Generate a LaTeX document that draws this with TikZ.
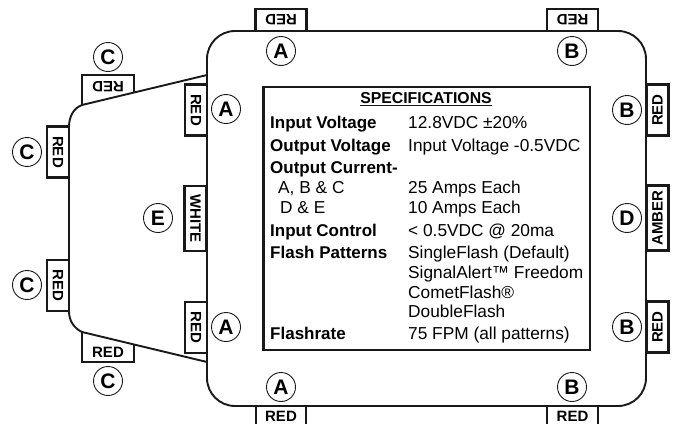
\documentclass[tikz,border=0pt]{standalone}
\usepackage{fontspec}
\setmainfont{Liberation Sans}
\tikzset{
  outline/.style={line width=1.9pt,draw=black!90},
  tabbox/.style={draw=black!90,line width=2.2pt,minimum width=51pt,minimum height=22pt,inner sep=0pt,font=\fontsize{15}{15}\selectfont\bfseries},
  longtab/.style={tabbox,minimum width=65pt,font=\fontsize{15}{15}\selectfont\bfseries},
  tabtext/.style={inner sep=0pt,font=\fontsize{15}{15}\selectfont\bfseries},
  tagcircle/.style={draw=black!90,line width=0.9pt,circle,minimum size=29pt,inner sep=0pt,font=\fontsize{21}{21}\selectfont\bfseries},
  head/.style={anchor=base west,inner sep=0pt,font=\fontsize{17}{17}\selectfont\bfseries},
  val/.style={anchor=base west,inner sep=0pt,font=\fontsize{17.3}{17}\selectfont},
}
\begin{document}
\begin{tikzpicture}[x=1pt,y=-1pt]
\useasboundingbox (0,0) rectangle (674,423);
% main body
\draw[outline,rounded corners=28pt] (207,200) -- (207,31) -- (646,31) -- (646,406) -- (207,406) -- cycle;
% left wing
\draw[outline] (207,75) -- (82,105) .. controls (74,108) and (69,116) .. (69,127) -- (69,311)
  .. controls (69,321) and (74,328) .. (82,332) -- (207,362);
% angled tabs
\draw[outline,line width=2.2pt] (82,105) -- (82,75) -- (134,75) -- (134,92.5);
\draw[outline,line width=2.2pt] (82,332) -- (82,362) -- (134,362) -- (134,344.5);
\node[tabtext,rotate=180] (tc1) at (108,87) {RED};
\node[tabtext] (tc4) at (108,352) {RED};
% open bottom tabs
\draw[outline,line width=2.2pt] (256,423.5) -- (256,406) (306,406) -- (306,423.5);
\draw[outline,line width=2.2pt] (547,423.5) -- (547,406) (598,406) -- (598,423.5);
\node[tabtext] (ta5) at (281,416) {RED};
\node[tabtext] (tb5) at (572.5,416) {RED};
% other tabs
\node[tabbox,rotate=180] (ta1) at (281,20) {RED};
\node[tabbox,rotate=180] (tb1) at (572.5,20) {RED};
\node[tabbox,rotate=-90] (tc2) at (58,152) {RED};
\node[tabbox,rotate=-90] (tc3) at (58,285.5) {RED};
\node[tabbox,rotate=-90] (ta2) at (196,110) {RED};
\node[longtab,rotate=-90] (te) at (195.5,218.5) {WHITE};
\node[tabbox,rotate=-90] (ta3) at (196,327.5) {RED};
\node[tabbox,rotate=90] (tb2) at (657.5,110) {RED};
\node[longtab,rotate=90] (td) at (657.5,218) {AMBER};
\node[tabbox,rotate=90] (tb3) at (657.5,327) {RED};
% letter circles
\node[tagcircle] (c1) at (108,57) {C};
\node[tagcircle] (c2) at (27,152) {C};
\node[tagcircle] (c3) at (27,285) {C};
\node[tagcircle] (c4) at (108,381) {C};
\node[tagcircle] (a1) at (281,51) {A};
\node[tagcircle] (a2) at (226,109) {A};
\node[tagcircle] (a3) at (226,327) {A};
\node[tagcircle] (a4) at (281,387) {A};
\node[tagcircle] (b1) at (572,51) {B};
\node[tagcircle] (b2) at (627,110) {B};
\node[tagcircle] (b3) at (627,327) {B};
\node[tagcircle] (b4) at (572,387) {B};
\node[tagcircle] (d) at (627,218) {D};
\node[tagcircle] (e) at (158,218) {E};
% specification box
\draw[line width=2.2pt,draw=black!90] (263.5,87) rectangle (590,350);
\node[head,anchor=base,font=\fontsize{15.8}{16}\selectfont\bfseries] (title) at (426,103) {SPECIFICATIONS};
\draw[line width=1.1pt,draw=black!90] ([yshift=-2.2pt]title.base west) -- ([yshift=-2.2pt]title.base east);
\node[head] (h1) at (270,128) {Input Voltage};
\node[val] (v1) at (408,128) {12.8VDC ±20\%};
\node[head] (h2) at (270,151) {Output Voltage};
\node[val] (v2) at (408,151) {Input Voltage -0.5VDC};
\node[head] (h3) at (270,173) {Output Current-};
\node[val] (h4) at (278,193) {A, B \& C};
\node[val] (v4) at (408,193) {25 Amps Each};
\node[val] (h5) at (280,213) {D \& E};
\node[val] (v5) at (408,213) {10 Amps Each};
\node[head] (h6) at (270,236) {Input Control};
\node[val] (v6) at (408,236) {< 0.5VDC @ 20ma};
\node[head] (h7) at (270,258) {Flash Patterns};
\node[val] (v7) at (408,258) {SingleFlash (Default)};
\node[val] (v8) at (408,278) {SignalAlert™ Freedom};
\node[val] (v9) at (408,298) {CometFlash®};
\node[val] (v10) at (408,317) {DoubleFlash};
\node[head] (h8) at (270,339) {Flashrate};
\node[val] (v11) at (408,339) {75 FPM (all patterns)};
\end{tikzpicture}
\end{document}
